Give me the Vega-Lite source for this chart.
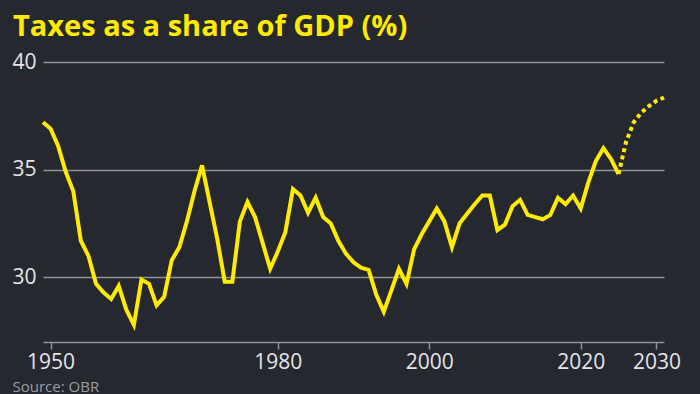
{
  "$schema": "https://vega.github.io/schema/vega-lite/v6.json",
  "width": 621,
  "height": 280,
  "autosize": {"type": "none"},
  "padding": {"left": 43, "top": 62, "right": 36, "bottom": 52},
  "background": "#26282f",
  "config": {"view": {"stroke": null}, "font": "Open Sans"},
  "title": {
    "text": "Taxes as a share of GDP (%)",
    "anchor": "start",
    "frame": "group",
    "dx": -30,
    "offset": 9,
    "fontSize": 29,
    "fontWeight": "bold",
    "color": "#ffeb00",
    "font": "Open Sans"
  },
  "data": {
    "values": [
      {"year": 1949, "value": 37.2, "series": "actual"},
      {"year": 1950, "value": 36.9, "series": "actual"},
      {"year": 1951, "value": 36.1, "series": "actual"},
      {"year": 1952, "value": 34.9, "series": "actual"},
      {"year": 1953, "value": 34.0, "series": "actual"},
      {"year": 1954, "value": 31.7, "series": "actual"},
      {"year": 1955, "value": 31.0, "series": "actual"},
      {"year": 1956, "value": 29.7, "series": "actual"},
      {"year": 1957, "value": 29.3, "series": "actual"},
      {"year": 1958, "value": 29.0, "series": "actual"},
      {"year": 1959, "value": 29.6, "series": "actual"},
      {"year": 1960, "value": 28.5, "series": "actual"},
      {"year": 1961, "value": 27.8, "series": "actual"},
      {"year": 1962, "value": 29.9, "series": "actual"},
      {"year": 1963, "value": 29.7, "series": "actual"},
      {"year": 1964, "value": 28.7, "series": "actual"},
      {"year": 1965, "value": 29.1, "series": "actual"},
      {"year": 1966, "value": 30.8, "series": "actual"},
      {"year": 1967, "value": 31.4, "series": "actual"},
      {"year": 1968, "value": 32.6, "series": "actual"},
      {"year": 1969, "value": 34.0, "series": "actual"},
      {"year": 1970, "value": 35.2, "series": "actual"},
      {"year": 1971, "value": 33.5, "series": "actual"},
      {"year": 1972, "value": 31.8, "series": "actual"},
      {"year": 1973, "value": 29.8, "series": "actual"},
      {"year": 1974, "value": 29.8, "series": "actual"},
      {"year": 1975, "value": 32.6, "series": "actual"},
      {"year": 1976, "value": 33.5, "series": "actual"},
      {"year": 1977, "value": 32.8, "series": "actual"},
      {"year": 1978, "value": 31.6, "series": "actual"},
      {"year": 1979, "value": 30.4, "series": "actual"},
      {"year": 1980, "value": 31.2, "series": "actual"},
      {"year": 1981, "value": 32.1, "series": "actual"},
      {"year": 1982, "value": 34.1, "series": "actual"},
      {"year": 1983, "value": 33.8, "series": "actual"},
      {"year": 1984, "value": 33.0, "series": "actual"},
      {"year": 1985, "value": 33.7, "series": "actual"},
      {"year": 1986, "value": 32.8, "series": "actual"},
      {"year": 1987, "value": 32.5, "series": "actual"},
      {"year": 1988, "value": 31.7, "series": "actual"},
      {"year": 1989, "value": 31.1, "series": "actual"},
      {"year": 1990, "value": 30.7, "series": "actual"},
      {"year": 1991, "value": 30.45, "series": "actual"},
      {"year": 1992, "value": 30.35, "series": "actual"},
      {"year": 1993, "value": 29.2, "series": "actual"},
      {"year": 1994, "value": 28.4, "series": "actual"},
      {"year": 1995, "value": 29.4, "series": "actual"},
      {"year": 1996, "value": 30.4, "series": "actual"},
      {"year": 1997, "value": 29.7, "series": "actual"},
      {"year": 1998, "value": 31.3, "series": "actual"},
      {"year": 1999, "value": 32.0, "series": "actual"},
      {"year": 2000, "value": 32.6, "series": "actual"},
      {"year": 2001, "value": 33.2, "series": "actual"},
      {"year": 2002, "value": 32.6, "series": "actual"},
      {"year": 2003, "value": 31.4, "series": "actual"},
      {"year": 2004, "value": 32.5, "series": "actual"},
      {"year": 2005, "value": 32.95, "series": "actual"},
      {"year": 2006, "value": 33.4, "series": "actual"},
      {"year": 2007, "value": 33.8, "series": "actual"},
      {"year": 2008, "value": 33.8, "series": "actual"},
      {"year": 2009, "value": 32.2, "series": "actual"},
      {"year": 2010, "value": 32.45, "series": "actual"},
      {"year": 2011, "value": 33.3, "series": "actual"},
      {"year": 2012, "value": 33.6, "series": "actual"},
      {"year": 2013, "value": 32.9, "series": "actual"},
      {"year": 2014, "value": 32.8, "series": "actual"},
      {"year": 2015, "value": 32.7, "series": "actual"},
      {"year": 2016, "value": 32.9, "series": "actual"},
      {"year": 2017, "value": 33.7, "series": "actual"},
      {"year": 2018, "value": 33.4, "series": "actual"},
      {"year": 2019, "value": 33.8, "series": "actual"},
      {"year": 2020, "value": 33.2, "series": "actual"},
      {"year": 2021, "value": 34.4, "series": "actual"},
      {"year": 2022, "value": 35.4, "series": "actual"},
      {"year": 2023, "value": 36.0, "series": "actual"},
      {"year": 2024, "value": 35.5, "series": "actual"},
      {"year": 2025, "value": 34.8, "series": "actual"},
      {"year": 2025, "value": 34.8, "series": "forecast"},
      {"year": 2026, "value": 36.3, "series": "forecast"},
      {"year": 2027, "value": 37.2, "series": "forecast"},
      {"year": 2028, "value": 37.65, "series": "forecast"},
      {"year": 2029, "value": 37.95, "series": "forecast"},
      {"year": 2030, "value": 38.2, "series": "forecast"},
      {"year": 2031, "value": 38.35, "series": "forecast"}
    ]
  },
  "encoding": {
    "x": {
      "field": "year",
      "type": "quantitative",
      "scale": {"domain": [1949, 2031], "nice": false, "zero": false},
      "axis": {
        "values": [1950, 1980, 2000, 2020, 2030],
        "format": "d",
        "grid": false,
        "labelFlush": false,
        "labelOverlap": false,
        "domainColor": "#8f9198",
        "domainWidth": 1.5,
        "tickColor": "#8f9198",
        "tickWidth": 1.5,
        "tickSize": 7,
        "labelFontSize": 21,
        "labelColor": "#e4e4ea",
        "labelPadding": 2,
        "title": "Source: OBR",
        "titleAnchor": "start",
        "titleAlign": "left",
        "titleBaseline": "alphabetic",
        "titleX": -31,
        "titleY": 49,
        "titleFontSize": 15,
        "titleFontWeight": "normal",
        "titleColor": "#9a9ca3"
      }
    },
    "y": {
      "field": "value",
      "type": "quantitative",
      "scale": {"domain": [27, 40], "nice": false, "zero": false},
      "axis": {
        "values": [30, 35, 40],
        "grid": true,
        "gridColor": "#8f9198",
        "gridWidth": 1.5,
        "domain": false,
        "ticks": false,
        "labelPadding": 7,
        "labelFontSize": 21,
        "labelColor": "#e4e4ea",
        "title": null
      }
    }
  },
  "layer": [
    {
      "transform": [{"filter": "datum.series == 'actual'"}],
      "mark": {"type": "line", "color": "#ffeb00", "strokeWidth": 4}
    },
    {
      "transform": [{"filter": "datum.series == 'forecast'"}],
      "mark": {"type": "line", "color": "#ffeb00", "strokeWidth": 4, "strokeDash": [4, 3.5], "strokeCap": "butt"}
    }
  ]
}
